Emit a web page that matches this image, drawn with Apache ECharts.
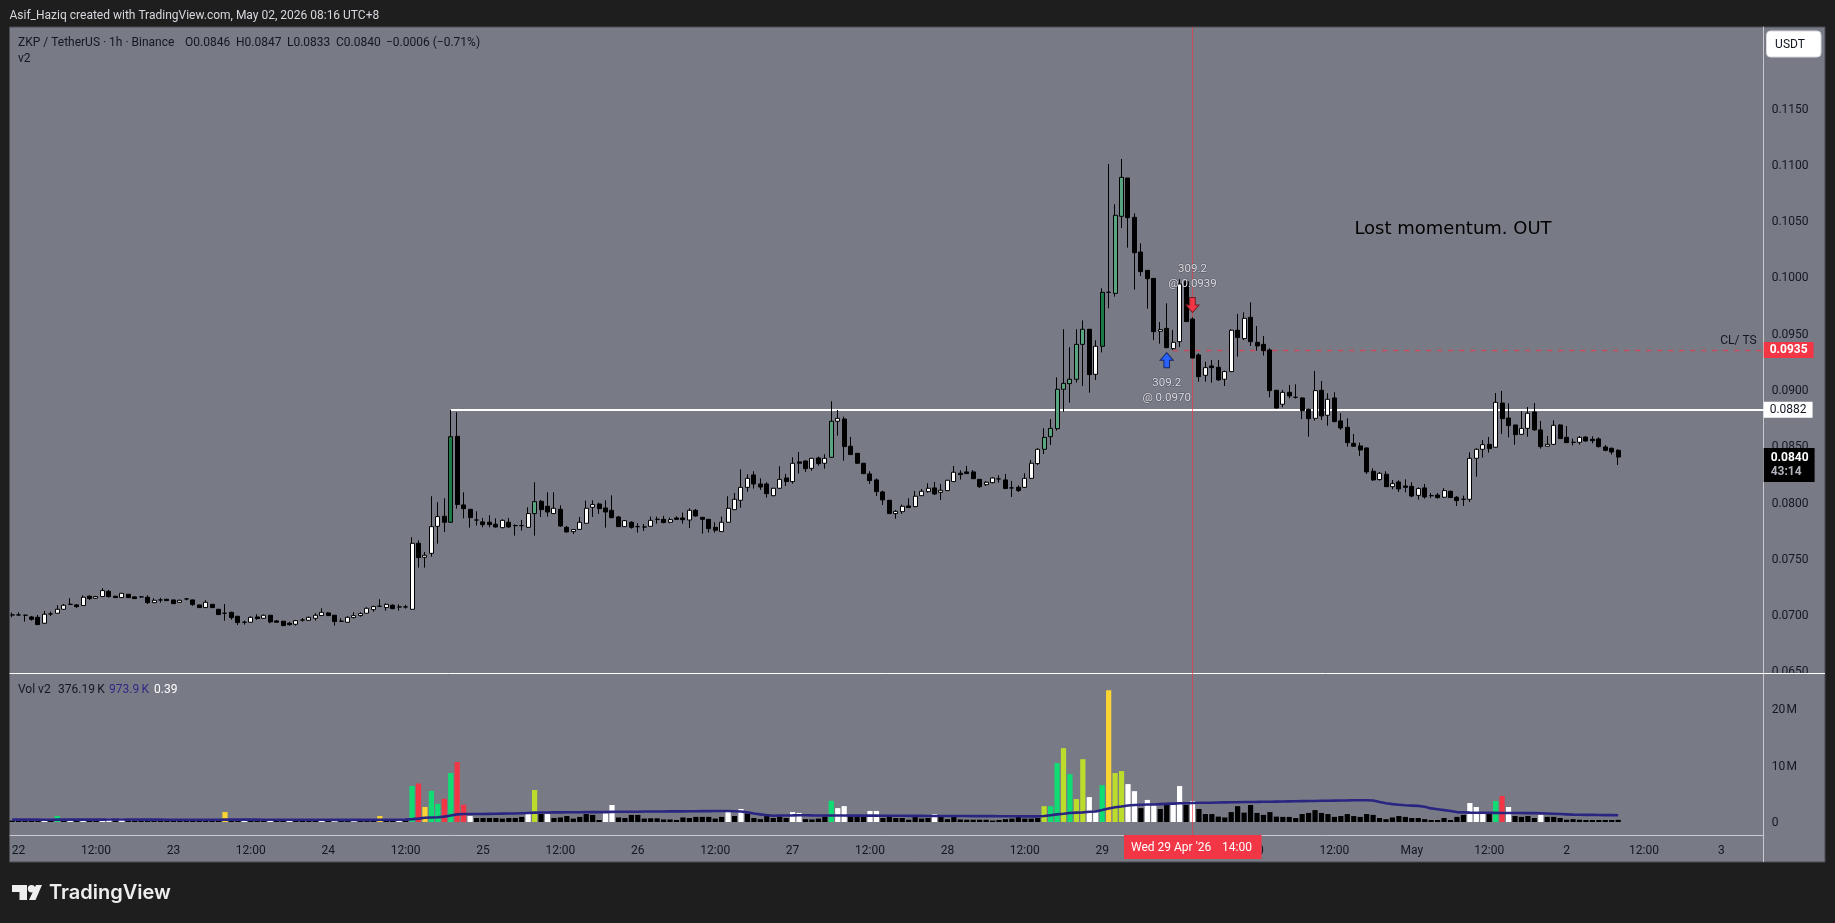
<!DOCTYPE html>
<html lang="en">
<head>
<meta charset="UTF-8">
<title>ZKP / TetherUS 1h</title>
<script src="https://cdn.jsdelivr.net/npm/echarts@6/dist/echarts.min.js"></script>
<style>
html,body{margin:0;padding:0;background:#1e1e1e;}
#chart{width:1835px;height:923px;}
</style>
</head>
<body>
<div id="chart"></div>
<script>
// hours counted from 22 Apr 00:00, first candle is one hour before that
var firstHour = -1;

var opens = [
0.06998,0.06998,0.06995,0.06980,0.06977,0.06924,0.07007,0.07013,0.07048,0.07092,
0.07087,0.07081,0.07164,0.07146,0.07161,0.07208,0.07164,0.07152,0.07181,0.07158,
0.07158,0.07155,0.07107,0.07131,0.07137,0.07131,0.07110,0.07140,0.07131,0.07087,
0.07063,0.07092,0.07048,0.07013,0.07021,0.06986,0.06933,0.06933,0.06980,0.06968,
0.06995,0.06945,0.06942,0.06924,0.06915,0.06953,0.06950,0.06968,0.06992,0.07016,
0.06995,0.06942,0.06933,0.06974,0.06992,0.07013,0.07045,0.07075,0.07063,0.07084,
0.07069,0.07069,0.07048,0.07634,0.07510,0.07545,0.07785,0.07874,0.07821,0.08584,
0.07975,0.07936,0.07841,0.07824,0.07821,0.07803,0.07773,0.07821,0.07791,0.07791,
0.07776,0.07898,0.08007,0.07963,0.07898,0.07936,0.07776,0.07738,0.07758,0.07812,
0.07954,0.07983,0.07948,0.07927,0.07868,0.07782,0.07821,0.07782,0.07779,0.07785,
0.07847,0.07847,0.07821,0.07859,0.07859,0.07841,0.07927,0.07865,0.07847,0.07776,
0.07738,0.07821,0.07933,0.08016,0.08131,0.08241,0.08161,0.08161,0.08057,0.08123,
0.08214,0.08182,0.08357,0.08365,0.08300,0.08392,0.08345,0.08398,0.08718,0.08738,
0.08496,0.08433,0.08345,0.08250,0.08197,0.08090,0.08016,0.07898,0.07915,0.07966,
0.07960,0.08057,0.08093,0.08126,0.08087,0.08102,0.08182,0.08256,0.08268,0.08268,
0.08202,0.08155,0.08173,0.08206,0.08197,0.08126,0.08131,0.08131,0.08211,0.08342,
0.08469,0.08581,0.08652,0.09002,0.09052,0.09091,0.09401,0.09535,0.09135,0.09384,
0.09863,0.09854,0.10538,0.10878,0.10529,0.10221,0.10058,0.09987,0.09517,0.09543,
0.09363,0.09425,0.09958,0.09626,0.09307,0.09126,0.09209,0.09197,0.09091,0.09159,
0.09526,0.09452,0.09641,0.09419,0.09401,0.09351,0.08993,0.08869,0.08975,0.08931,
0.08925,0.08824,0.08744,0.08993,0.08771,0.08925,0.08721,0.08664,0.08522,0.08499,
0.08481,0.08274,0.08200,0.08247,0.08137,0.08179,0.08143,0.08140,0.08060,0.08126,
0.08057,0.08063,0.08043,0.08096,0.08043,0.08025,0.08025,0.08389,0.08469,0.08513,
0.08487,0.08880,0.08747,0.08685,0.08602,0.08655,0.08800,0.08641,0.08496,0.08513,
0.08685,0.08575,0.08531,0.08531,0.08578,0.08558,0.08561,0.08490,0.08478,0.08460
];
var highs = [
0.07019,0.07021,0.07001,0.06989,0.06998,0.07033,0.07027,0.07084,0.07095,0.07146,
0.07095,0.07172,0.07172,0.07167,0.07235,0.07220,0.07167,0.07193,0.07184,0.07164,
0.07164,0.07172,0.07146,0.07149,0.07140,0.07134,0.07134,0.07149,0.07134,0.07090,
0.07128,0.07095,0.07051,0.07095,0.07027,0.06989,0.06947,0.06986,0.07004,0.07001,
0.06998,0.06953,0.06945,0.06936,0.06953,0.06971,0.06983,0.07013,0.07057,0.07024,
0.06998,0.06968,0.06986,0.07021,0.07021,0.07066,0.07081,0.07137,0.07101,0.07092,
0.07092,0.07087,0.07688,0.07661,0.07557,0.08052,0.07999,0.08034,0.08818,0.08797,
0.08087,0.07936,0.07918,0.07859,0.07883,0.07856,0.07847,0.07859,0.07803,0.07841,
0.07954,0.08176,0.08019,0.08087,0.08087,0.07972,0.07788,0.07761,0.07868,0.08013,
0.08016,0.07995,0.08016,0.08060,0.07877,0.07841,0.07830,0.07812,0.07806,0.07871,
0.07871,0.07877,0.07862,0.07874,0.07907,0.07945,0.07939,0.07868,0.07850,0.07821,
0.07871,0.08052,0.08081,0.08291,0.08247,0.08274,0.08211,0.08176,0.08126,0.08318,
0.08250,0.08398,0.08445,0.08371,0.08392,0.08404,0.08425,0.08895,0.08818,0.08759,
0.08578,0.08436,0.08348,0.08274,0.08211,0.08102,0.08019,0.07930,0.07978,0.08034,
0.08099,0.08117,0.08167,0.08179,0.08161,0.08197,0.08321,0.08282,0.08321,0.08285,
0.08205,0.08185,0.08220,0.08238,0.08250,0.08188,0.08149,0.08256,0.08374,0.08478,
0.08655,0.08738,0.09108,0.09535,0.09375,0.09535,0.09614,0.09535,0.09437,0.09899,
0.11003,0.10645,0.11047,0.10878,0.10565,0.10298,0.10058,0.09987,0.09600,0.09765,
0.09529,0.09979,0.09979,0.09641,0.09321,0.09247,0.09262,0.09262,0.09167,0.09535,
0.09671,0.09685,0.09774,0.09564,0.09475,0.09366,0.08996,0.08996,0.09040,0.09046,
0.08931,0.08830,0.09165,0.09076,0.08966,0.08975,0.08789,0.08744,0.08605,0.08528,
0.08484,0.08300,0.08268,0.08274,0.08197,0.08194,0.08202,0.08176,0.08131,0.08161,
0.08081,0.08081,0.08123,0.08102,0.08054,0.08057,0.08442,0.08478,0.08552,0.08578,
0.08969,0.08987,0.08877,0.08685,0.08806,0.08845,0.08880,0.08721,0.08587,0.08726,
0.08691,0.08676,0.08564,0.08587,0.08584,0.08584,0.08575,0.08507,0.08484,0.08470
];
var lows = [
0.06977,0.06989,0.06939,0.06947,0.06909,0.06918,0.06989,0.07010,0.07042,0.07090,
0.07060,0.07078,0.07131,0.07140,0.07158,0.07152,0.07149,0.07149,0.07149,0.07140,
0.07152,0.07095,0.07104,0.07107,0.07122,0.07095,0.07107,0.07128,0.07078,0.07060,
0.07060,0.07060,0.06998,0.06947,0.06956,0.06909,0.06912,0.06930,0.06956,0.06965,
0.06924,0.06930,0.06900,0.06903,0.06903,0.06939,0.06947,0.06947,0.06989,0.06989,
0.06903,0.06939,0.06930,0.06968,0.06983,0.07010,0.07027,0.07072,0.07036,0.07048,
0.07036,0.07054,0.07045,0.07418,0.07418,0.07516,0.07631,0.07735,0.07818,0.07942,
0.07856,0.07773,0.07791,0.07776,0.07776,0.07773,0.07767,0.07773,0.07702,0.07747,
0.07773,0.07702,0.07868,0.07871,0.07898,0.07782,0.07729,0.07717,0.07756,0.07809,
0.07868,0.07895,0.07773,0.07856,0.07779,0.07779,0.07764,0.07729,0.07744,0.07782,
0.07809,0.07812,0.07812,0.07841,0.07809,0.07770,0.07871,0.07720,0.07729,0.07729,
0.07735,0.07818,0.07933,0.07951,0.08093,0.08120,0.08108,0.08040,0.08052,0.08120,
0.08143,0.08164,0.08253,0.08268,0.08279,0.08324,0.08297,0.08395,0.08590,0.08368,
0.08419,0.08342,0.08250,0.08161,0.08054,0.07975,0.07895,0.07853,0.07895,0.07951,
0.07954,0.08054,0.08084,0.08063,0.08019,0.08099,0.08179,0.08200,0.08253,0.08205,
0.08126,0.08143,0.08167,0.08173,0.08117,0.08046,0.08090,0.08126,0.08206,0.08330,
0.08427,0.08507,0.08635,0.08803,0.08883,0.09061,0.09031,0.08972,0.09085,0.09330,
0.09721,0.09825,0.10434,0.10260,0.09887,0.10008,0.09718,0.09440,0.09407,0.09366,
0.09351,0.09378,0.09603,0.09277,0.09070,0.09070,0.09061,0.09079,0.09031,0.09156,
0.09292,0.09440,0.09387,0.09345,0.09301,0.08931,0.08830,0.08842,0.08922,0.08919,
0.08738,0.08581,0.08723,0.08729,0.08679,0.08709,0.08641,0.08493,0.08493,0.08410,
0.08250,0.08188,0.08191,0.08134,0.08114,0.08090,0.08087,0.08043,0.08022,0.08031,
0.08037,0.08031,0.08037,0.08037,0.07966,0.07966,0.08001,0.08226,0.08395,0.08439,
0.08484,0.08605,0.08575,0.08510,0.08599,0.08581,0.08635,0.08475,0.08493,0.08510,
0.08561,0.08525,0.08504,0.08510,0.08537,0.08522,0.08484,0.08451,0.08422,0.08330
];
var closes = [
0.06998,0.06998,0.06995,0.06959,0.06912,0.07004,0.07007,0.07048,0.07084,0.07092,
0.07072,0.07155,0.07143,0.07161,0.07214,0.07161,0.07152,0.07190,0.07152,0.07143,
0.07158,0.07107,0.07128,0.07131,0.07125,0.07098,0.07128,0.07140,0.07090,0.07063,
0.07110,0.07063,0.07001,0.07013,0.06974,0.06930,0.06933,0.06977,0.06965,0.06995,
0.06936,0.06933,0.06903,0.06912,0.06947,0.06953,0.06977,0.06995,0.07021,0.06992,
0.06939,0.06942,0.06977,0.06992,0.07010,0.07057,0.07072,0.07075,0.07092,0.07054,
0.07069,0.07069,0.07634,0.07507,0.07528,0.07782,0.07871,0.07821,0.08581,0.07978,
0.07942,0.07862,0.07841,0.07800,0.07800,0.07779,0.07838,0.07779,0.07791,0.07791,
0.07898,0.08004,0.07933,0.07912,0.07945,0.07788,0.07735,0.07756,0.07821,0.07945,
0.07978,0.07942,0.07912,0.07862,0.07782,0.07835,0.07776,0.07782,0.07779,0.07838,
0.07847,0.07818,0.07844,0.07847,0.07844,0.07927,0.07877,0.07847,0.07764,0.07750,
0.07821,0.07945,0.08025,0.08131,0.08211,0.08161,0.08134,0.08075,0.08123,0.08202,
0.08182,0.08345,0.08345,0.08297,0.08389,0.08342,0.08389,0.08718,0.08744,0.08493,
0.08422,0.08345,0.08253,0.08191,0.08093,0.08019,0.07898,0.07918,0.07963,0.07951,
0.08052,0.08096,0.08123,0.08072,0.08105,0.08194,0.08265,0.08244,0.08253,0.08208,
0.08137,0.08176,0.08214,0.08206,0.08120,0.08126,0.08102,0.08211,0.08345,0.08469,
0.08575,0.08655,0.09002,0.09055,0.09091,0.09401,0.09535,0.09132,0.09384,0.09863,
0.09863,0.10547,0.10884,0.10526,0.10215,0.10047,0.09984,0.09514,0.09532,0.09372,
0.09419,0.09937,0.09603,0.09280,0.09114,0.09194,0.09194,0.09085,0.09159,0.09526,
0.09461,0.09632,0.09425,0.09387,0.09345,0.08990,0.08836,0.08975,0.08943,0.08931,
0.08812,0.08741,0.08990,0.08765,0.08913,0.08715,0.08658,0.08528,0.08496,0.08463,
0.08268,0.08197,0.08256,0.08137,0.08164,0.08117,0.08131,0.08054,0.08120,0.08046,
0.08057,0.08040,0.08102,0.08040,0.08013,0.08025,0.08389,0.08469,0.08510,0.08475,
0.08886,0.08741,0.08679,0.08599,0.08655,0.08789,0.08641,0.08493,0.08513,0.08682,
0.08564,0.08528,0.08531,0.08575,0.08543,0.08546,0.08493,0.08460,0.08445,0.08400
];

// volume in millions
var volumes = [
0.25,0.25,0.3,0.25,0.3,0.35,0.25,1.05,0.3,0.35,
0.25,0.35,0.25,0.3,0.5,0.65,0.25,0.65,0.3,0.25,
0.25,0.3,0.25,0.25,0.25,0.3,0.25,0.25,0.3,0.3,
0.3,0.25,0.3,1.75,0.3,0.35,0.35,0.3,0.3,0.25,
0.35,0.25,0.3,0.35,0.3,0.25,0.3,0.25,0.35,0.25,
0.35,0.3,0.3,0.35,0.25,0.25,0.3,1.05,0.25,0.25,
0.35,0.3,6.35,6.8,2.65,5.5,3.2,4.1,8.65,10.6,
3.05,1.05,0.7,0.7,0.7,0.7,0.6,0.7,0.7,0.9,
1.75,5.65,1.4,1.4,0.7,0.8,1.05,0.6,0.9,1.4,
1.25,0.35,1.5,3.0,0.8,0.7,1.25,1.25,0.6,0.65,
0.65,0.45,0.45,0.35,0.8,0.7,0.9,0.9,0.9,0.6,
0.9,1.75,1.05,2.3,1.5,0.7,0.5,1.4,0.7,0.95,
0.7,1.75,1.6,0.5,0.45,0.6,0.95,3.75,2.45,2.8,
1.05,0.95,0.9,1.95,1.95,0.7,1.05,0.7,0.7,0.4,
0.9,0.6,0.7,1.4,0.95,0.5,0.9,0.45,0.4,0.4,
0.4,0.4,0.25,0.35,0.5,0.6,0.9,0.6,0.6,0.7,
2.8,2.8,10.4,13.05,8.45,4.05,11.1,4.4,1.75,6.5,
23.3,8.65,9.0,6.7,5.45,2.45,3.9,2.95,2.3,3.0,
3.0,6.35,3.0,3.7,2.3,1.4,1.4,0.95,0.8,1.75,
2.8,1.65,3.0,1.6,1.25,1.75,0.95,0.9,0.9,0.7,
1.4,1.6,2.1,1.6,1.4,0.9,1.05,1.4,1.05,0.9,
1.4,1.25,0.7,0.5,0.8,1.05,0.9,0.7,0.7,0.5,
0.35,0.35,0.7,0.35,0.9,1.25,3.35,2.65,1.4,1.4,
3.7,4.6,2.65,1.05,0.9,1.05,0.7,1.25,0.9,0.9,
0.7,0.4,0.5,0.4,0.35,0.35,0.35,0.35,0.35,0.38
];
var volumeMa = [
0.42,0.42,0.41,0.41,0.41,0.4,0.4,0.42,0.42,0.42,
0.42,0.42,0.42,0.42,0.42,0.43,0.43,0.43,0.43,0.43,
0.42,0.42,0.41,0.41,0.4,0.4,0.4,0.4,0.4,0.4,
0.39,0.39,0.39,0.42,0.42,0.42,0.41,0.41,0.41,0.4,
0.4,0.4,0.4,0.4,0.4,0.39,0.39,0.39,0.39,0.39,
0.38,0.38,0.38,0.38,0.38,0.38,0.38,0.4,0.4,0.4,
0.4,0.42,0.5,0.6,0.75,0.8,0.85,0.95,1.15,1.35,
1.4,1.4,1.4,1.42,1.44,1.46,1.48,1.5,1.5,1.55,
1.6,1.65,1.68,1.68,1.7,1.7,1.72,1.72,1.73,1.74,
1.75,1.75,1.76,1.78,1.8,1.8,1.82,1.82,1.84,1.84,
1.85,1.86,1.87,1.88,1.88,1.9,1.9,1.92,1.92,1.94,
1.94,1.95,1.9,1.85,1.7,1.5,1.35,1.2,1.1,1.15,
1.15,1.16,1.18,1.18,1.16,1.15,1.15,1.15,1.14,1.14,
1.13,1.13,1.12,1.12,1.12,1.1,1.1,1.1,1.1,1.08,
1.08,1.08,1.07,1.07,1.06,1.06,1.05,1.05,1.05,1.04,
1.04,1.03,1.03,1.02,1.02,1.01,1.01,1,1,1,
1.05,1.2,1.35,1.45,1.6,1.65,1.7,1.8,1.85,2.1,
2.4,2.6,2.75,2.9,3,3.05,3.1,3.1,3.15,3.2,
3.25,3.3,3.3,3.35,3.4,3.4,3.4,3.45,3.47,3.48,
3.5,3.52,3.54,3.55,3.57,3.58,3.6,3.62,3.64,3.66,
3.68,3.7,3.72,3.74,3.76,3.78,3.8,3.82,3.85,3.85,
3.85,3.8,3.55,3.3,3.15,3.05,2.95,2.9,2.85,2.7,
2.4,2.25,2.1,1.95,1.75,1.7,1.65,1.64,1.63,1.62,
1.61,1.6,1.6,1.59,1.58,1.57,1.56,1.55,1.5,1.45,
1.4,1.35,1.3,1.28,1.26,1.25,1.24,1.22,1.21,1.2
];

// candles and volume bars that TradingView highlighted, by hour
var candleDarkGreen = [67,168];
var candleLightGreen = [80,126,159,160,161,162,163,164,165,170,171];
var volWhite = [4,8,10,13,14,16,35,39,42,47,49,52,59,70,79,82,91,92,110,112,120,121,127,128,132,133,142,166,167,172,173,175,176,179,180,182,225,226,227,231,236];
var volGreen = [6,61,64,65,67,126,160,161,163,168,229];
var volRed = [62,66,68,69,230];
var volYellow = [32,56,63,169];
var volLime = [80,159,162,164,165,170,171];

var priceTicks = [0.065,0.07,0.075,0.08,0.085,0.09,0.095,0.1,0.105,0.11,0.115];
var volumeTicks = [0,10,20];
var timeTickHours = [0,12,24,36,48,60,72,84,96,108,120,132,144,156,168,180,192,204,216,228,240,252,264];
var timeTickLabels = ['22','12:00','23','12:00','24','12:00','25','12:00','26','12:00','27','12:00','28','12:00','29','12:00','30','12:00','May','12:00','2','12:00','3'];

var levelHour = 67, levelPrice = 0.0882;
var stopHour = 179, stopPrice = 0.0935;
var lastPrice = 0.0840;
var crosshairHour = 182;
var buyHour = 178, buyPrice = 0.0926;
var sellHour = 182, sellPrice = 0.0975;

// axis ends, picked so one hour is 6.45px inside the pane
var xMin = -1.333, xMax = 270.558;
var font = 'Roboto, "Liberation Sans", sans-serif';
var paneColor = '#787b86', inkColor = '#131722', lineGrey = '#c7c9cf', tvRed = '#f23645';

var toneColor = {white:'#ffffff', green:'#0fdc72', red:'#f23645', yellow:'#fdd432', lime:'#bcdc2c'};

function has(list, h){ return list.indexOf(h) >= 0; }

var candleData = opens.map(function(o, i){
    var h = i + firstHour;
    var fill = closes[i] > o ? '#ffffff' : '#000000';
    if (has(candleDarkGreen, h)) fill = '#1c7a48';
    if (has(candleLightGreen, h)) fill = '#5aa581';
    return {
        value: [h, o, closes[i], lows[i], highs[i]],
        itemStyle: {color: fill, color0: fill, borderColor: '#000', borderColor0: '#000', borderColorDoji: '#000'}
    };
});

var volumeData = volumes.map(function(v, i){
    var h = i + firstHour;
    var c = '#000000';
    if (has(volWhite, h)) c = toneColor.white;
    if (has(volGreen, h)) c = toneColor.green;
    if (has(volRed, h)) c = toneColor.red;
    if (has(volYellow, h)) c = toneColor.yellow;
    if (has(volLime, h)) c = toneColor.lime;
    return {value: [h, v], itemStyle: {color: c}};
});

var maData = volumeMa.map(function(v, i){ return [i + firstHour, v]; });

function priceTag(price, bg, fg, bold){
    return {
        show: true, position: 'end', distance: 0,
        formatter: price.toFixed(4),
        backgroundColor: bg, color: fg, fontFamily: font, fontSize: 12, fontWeight: bold ? 'bold' : 'normal',
        padding: [2, 6, 1, 6], lineHeight: 13, align: 'left'
    };
}

function txt(text, x, y, fill, size, extra){
    var st = {text: text, x: x, y: y, fill: fill, font: (extra && extra.weight || 'normal') + ' ' + (size || 12) + 'px ' + (extra && extra.family || font),
        verticalAlign: 'middle', align: extra && extra.align || 'left'};
    return {type: 'text', z: 100, silent: true, style: st};
}

// rich token with top padding, nudges the axis labels down like the original
var axisRich = {t: {color: inkColor, fontFamily: font, fontSize: 12, padding: [3, 0, 0, 0]}};

var option = {
    backgroundColor: '#1e1e1e',
    animation: false,
    grid: [
        {left: 10, width: 1753.7, top: 27, height: 646},
        {left: 10, width: 1753.7, top: 673, height: 162}
    ],
    xAxis: [
        {type: 'value', gridIndex: 0, min: xMin, max: xMax, splitLine: {show: false},
            axisLine: {show: true, onZero: false, lineStyle: {color: '#ffffff', width: 1}},
            axisTick: {show: false}, axisLabel: {show: false}},
        {type: 'value', gridIndex: 1, min: xMin, max: xMax, splitLine: {show: false},
            axisLine: {show: true, onZero: false, lineStyle: {color: lineGrey, width: 1}},
            axisTick: {show: false},
            axisLabel: {color: inkColor, fontFamily: font, fontSize: 12, margin: 10,
                customValues: timeTickHours,
                formatter: function(v){ return timeTickLabels[timeTickHours.indexOf(v)]; }}}
    ],
    yAxis: [
        {type: 'value', gridIndex: 0, position: 'right', min: 0.064822, max: 0.122194, splitLine: {show: false},
            axisLine: {show: true, onZero: false, lineStyle: {color: lineGrey}}, axisTick: {show: false},
            axisLabel: {margin: 8, customValues: priceTicks, rich: axisRich,
                formatter: function(v){ return '{t|' + v.toFixed(4) + '}'; }}},
        {type: 'value', gridIndex: 1, position: 'right', min: -2.3, max: 26.33, splitLine: {show: false},
            axisLine: {show: true, onZero: false, lineStyle: {color: lineGrey}}, axisTick: {show: false},
            axisLabel: {margin: 8, customValues: volumeTicks, rich: axisRich,
                formatter: function(v){ return '{t|' + (v === 0 ? '0' : v + '\u200aM') + '}'; }}}
    ],
    series: [
        {
            name: 'Price', type: 'candlestick', xAxisIndex: 0, yAxisIndex: 0, barWidth: 4.5,
            data: candleData,
            markLine: {
                silent: true, symbol: 'none', animation: false, z: 1,
                data: [
                    [{coord: [levelHour, levelPrice], lineStyle: {color: '#ffffff', width: 2, type: 'solid'}, label: priceTag(levelPrice, '#ffffff', '#131722')},
                     {coord: [xMax, levelPrice]}],
                    [{coord: [stopHour, stopPrice], lineStyle: {color: '#c94a58', width: 1.4, type: [5, 6]}, label: priceTag(stopPrice, tvRed, '#ffffff', true)},
                     {coord: [xMax, stopPrice]}],
                    {xAxis: crosshairHour, lineStyle: {color: 'rgba(242,54,69,0.65)', width: 1, type: 'solid'}, label: {show: false}}
                ]
            },
            markPoint: {
                silent: true, animation: false,
                data: [
                    {coord: [buyHour, buyPrice], symbol: 'path://M7 0 L14 8 L10 8 L10 16 L4 16 L4 8 L0 8 Z', symbolSize: [13, 15],
                        itemStyle: {color: '#2962ff', borderColor: '#15255e', borderWidth: 1},
                        label: {show: true, position: 'bottom', distance: 7, formatter: '309.2\n@ 0.0970', color: '#dcdde2',
                            fontFamily: font, fontSize: 11.5, lineHeight: 15, textBorderColor: 'rgba(40,40,50,0.45)', textBorderWidth: 1}},
                    {coord: [sellHour, sellPrice], symbol: 'path://M4 0 L10 0 L10 8 L14 8 L7 16 L0 8 L4 8 Z', symbolSize: [13, 15],
                        itemStyle: {color: tvRed, borderColor: '#6e1c26', borderWidth: 1},
                        label: {show: true, position: 'top', distance: 5, formatter: '309.2\n@ 0.0939', color: '#dcdde2',
                            fontFamily: font, fontSize: 11.5, lineHeight: 15, textBorderColor: 'rgba(40,40,50,0.45)', textBorderWidth: 1}},
                    {coord: [xMax, stopPrice], symbolSize: 0,
                        label: {show: true, position: 'left', distance: 0, offset: [-7, -9], formatter: 'CL/ TS', color: inkColor, fontFamily: font, fontSize: 12}},
                    {coord: [xMax, lastPrice], symbolSize: 0,
                        label: {show: true, position: 'right', distance: 0, offset: [0, 8], backgroundColor: '#000000', padding: [3, 6, 3, 7],
                            formatter: '{a|0.0840}\n{b|43:14}',
                            rich: {a: {color: '#ffffff', fontWeight: 'bold', fontFamily: font, fontSize: 12, lineHeight: 14},
                                   b: {color: '#b2b5be', fontWeight: 'bold', fontFamily: font, fontSize: 12, lineHeight: 14}}}}
                ]
            }
        },
        {
            name: 'Vol', type: 'bar', xAxisIndex: 1, yAxisIndex: 1, barWidth: 5.2,
            data: volumeData,
            markLine: {
                silent: true, symbol: 'none', animation: false, label: {show: false},
                lineStyle: {color: 'rgba(242,54,69,0.65)', width: 1, type: 'solid'},
                data: [{xAxis: crosshairHour}]
            }
        },
        {
            name: 'Vol MA', type: 'line', xAxisIndex: 1, yAxisIndex: 1, showSymbol: false, z: 5,
            lineStyle: {color: '#2b2582', width: 2.6},
            data: maData
        }
    ],
    graphic: [
        {type: 'rect', z: -10, silent: true, shape: {x: 9.5, y: 27, width: 1815.5, height: 835}, style: {fill: paneColor, stroke: '#4b4c52', lineWidth: 1}},
        {type: 'line', z: 1, silent: true, shape: {x1: 1763.5, y1: 835, x2: 1763.5, y2: 862}, style: {stroke: lineGrey, lineWidth: 1}},
        // the lowest price label is cut off by the volume pane
        {type: 'rect', z: 50, silent: true, shape: {x: 1765, y: 674, width: 59, height: 8}, style: {fill: paneColor}},
        {type: 'line', z: 51, silent: true, shape: {x1: 1764, y1: 673.5, x2: 1825, y2: 673.5}, style: {stroke: '#ffffff', lineWidth: 1}},
        txt('Asif_Haziq created with TradingView.com, May 02, 2026 08:16 UTC+8', 9.5, 15.5, '#d6d8de', 12),
        txt('ZKP / TetherUS \u00b7 1h \u00b7 Binance', 18, 42.5, inkColor, 12),
        txt('O0.0846', 185, 42.5, inkColor, 12),
        txt('H0.0847', 236, 42.5, inkColor, 12),
        txt('L0.0833', 287, 42.5, inkColor, 12),
        txt('C0.0840', 336, 42.5, inkColor, 12),
        txt('\u22120.0006 (\u22120.71%)', 386, 42.5, inkColor, 12),
        txt('v2', 18, 59, inkColor, 12),
        txt('Vol v2', 18, 689.5, inkColor, 12),
        txt('376.19\u2009K', 58, 689.5, inkColor, 12),
        txt('973.9\u2009K', 109, 689.5, '#2f2a85', 12),
        txt('0.39', 154, 689.5, '#ffffff', 12),
        txt('Lost momentum. OUT', 1453, 229.5, '#000000', 18, {align: 'center', family: '"DejaVu Sans", sans-serif'}),
        {type: 'rect', z: 100, silent: true, shape: {x: 1766.5, y: 31, width: 54.5, height: 26, r: 4}, style: {fill: '#ffffff', stroke: '#d8d8dc', lineWidth: 1}},
        txt('USDT', 1790, 44.5, inkColor, 12, {align: 'center'}),
        {type: 'rect', z: 100, silent: true, shape: {x: 1124, y: 835, width: 137.5, height: 24}, style: {fill: tvRed}},
        txt("Wed 29 Apr '26", 1131, 847.5, '#ffffff', 12),
        txt('14:00', 1222, 847.5, '#ffffff', 12),
        {type: 'polygon', z: 100, silent: true, shape: {points: [[12,885],[27,885],[27,900],[19.5,900],[19.5,892],[12,892]]}, style: {fill: '#eeeeee'}},
        {type: 'polygon', z: 100, silent: true, shape: {points: [[36,885],[42,885],[35.5,900],[29,900]]}, style: {fill: '#eeeeee'}},
        {type: 'circle', z: 100, silent: true, shape: {cx: 31.5, cy: 888.7, r: 3.7}, style: {fill: '#eeeeee'}},
        txt('TradingView', 49, 893, '#eeeeee', 20, {weight: '600', family: 'Inter, Roboto, sans-serif'})
    ]
};

var chart = echarts.init(document.getElementById('chart'), null, {renderer: 'canvas'});
chart.setOption(option);
</script>
</body>
</html>
